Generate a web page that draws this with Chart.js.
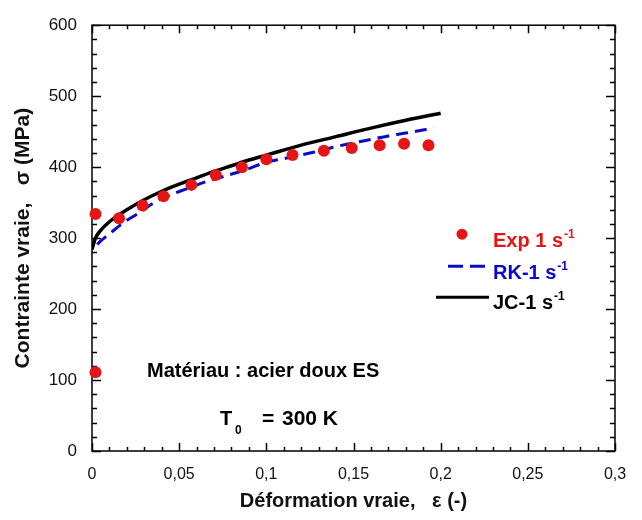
<!DOCTYPE html>
<html>
<head>
<meta charset="utf-8">
<script src="https://cdn.jsdelivr.net/npm/chart.js@4.4.1/dist/chart.umd.min.js"></script>
<style>
    html, body { margin: 0; padding: 0; background: #fff; }
    #chart-wrap { width: 642px; height: 520px; }
</style>
</head>
<body>
<div id="chart-wrap">
    <canvas id="stress-strain-chart" width="642" height="520"></canvas>
</div>
<script>
// Exp 1 s-1 : measured points (true strain, true stress in MPa)
const expStrain = [0.002, 0.002, 0.0155, 0.029, 0.041, 0.057, 0.071, 0.086, 0.100, 0.115, 0.133, 0.149, 0.165, 0.179, 0.193];
const expStress = [111, 334, 328, 346, 359, 375, 389, 400, 411, 417, 423, 427, 431, 433, 431];

// JC-1 s-1 : Johnson-Cook curve
const jcStrain = [0, 0.002, 0.005, 0.01, 0.015, 0.02, 0.03, 0.04, 0.05, 0.06, 0.07, 0.08, 0.09, 0.10, 0.12, 0.14, 0.16, 0.18, 0.20];
const jcStress = [284, 300, 311, 323, 332, 340, 354, 366, 376, 385, 394, 402, 410, 417, 431, 443, 455, 466, 476];

// RK-1 s-1 : dashed model curve
const rkStrain = [0.003, 0.005, 0.008, 0.012, 0.016, 0.02, 0.028, 0.035, 0.045, 0.055, 0.066, 0.077, 0.088, 0.10, 0.11, 0.127, 0.14, 0.16, 0.17, 0.18, 0.196];
const rkStress = [291, 296, 302, 310, 318, 325, 337, 349, 361, 370, 380, 388, 396, 407, 412, 421, 429, 439, 444, 448, 455];

// axis tick labels (French decimal comma)
const xTickLabels = ['0', '0,05', '0,1', '0,15', '0,2', '0,25', '0,3'];
const yTickLabels = ['0', '100', '200', '300', '400', '500', '600'];

const RED = '#e61414';
const BLUE = '#0a0acc';
const FONT = "'Liberation Sans', Arial, sans-serif";

function toPoints(xs, ys) {
    return xs.map((x, i) => ({ x: x, y: ys[i] }));
}

// box frame + inward major / minor ticks on all four sides
const frameTicks = {
    id: 'frameTicks',
    beforeDatasetsDraw(chart) {
        const { ctx, chartArea, scales } = chart;
        const { left, right, top, bottom } = chartArea;
        ctx.save();
        ctx.strokeStyle = '#000';
        ctx.lineWidth = 1.5;
        ctx.strokeRect(left, top, right - left, bottom - top);
        ctx.beginPath();
        // x ticks every 0.01, major every 0.05
        for (let i = 0; i <= 30; i++) {
            const px = Math.round(scales.x.getPixelForValue(i / 100)) + 0.5;
            const len = i % 5 === 0 ? 8 : 4;
            ctx.moveTo(px, bottom); ctx.lineTo(px, bottom - len);
            ctx.moveTo(px, top); ctx.lineTo(px, top + len);
        }
        // y ticks every 20, major every 100
        for (let v = 0; v <= 600; v += 20) {
            const py = Math.round(scales.y.getPixelForValue(v)) + 0.5;
            const len = v % 100 === 0 ? 9 : 5;
            ctx.moveTo(left, py); ctx.lineTo(left + len, py);
            ctx.moveTo(right, py); ctx.lineTo(right - len, py);
        }
        ctx.stroke();
        ctx.restore();
    }
};

function textWithSup(ctx, text, sup, x, y, color) {
    ctx.fillStyle = color;
    ctx.font = 'bold 20px ' + FONT;
    ctx.fillText(text, x, y);
    const w = ctx.measureText(text).width;
    ctx.font = 'bold 12px ' + FONT;
    ctx.fillText(sup, x + w + 1, y - 9);
}

// legend with superscripts and the two text notes
const notes = {
    id: 'notes',
    afterDraw(chart) {
        const { ctx, chartArea } = chart;
        const l = chartArea.left, t = chartArea.top;
        ctx.save();
        ctx.textBaseline = 'alphabetic';
        ctx.textAlign = 'left';

        // Exp marker
        ctx.fillStyle = RED;
        ctx.beginPath();
        ctx.arc(l + 370, t + 209, 5.5, 0, Math.PI * 2);
        ctx.fill();
        textWithSup(ctx, 'Exp 1 s', '-1', l + 401, t + 222, RED);

        // RK dashed sample
        ctx.strokeStyle = BLUE;
        ctx.lineWidth = 3;
        ctx.setLineDash([15, 7]);
        ctx.beginPath();
        ctx.moveTo(l + 356, t + 241); ctx.lineTo(l + 393, t + 241);
        ctx.stroke();
        textWithSup(ctx, 'RK-1 s', '-1', l + 401, t + 254, BLUE);

        // JC solid sample
        ctx.setLineDash([]);
        ctx.strokeStyle = '#000';
        ctx.beginPath();
        ctx.moveTo(l + 344, t + 272); ctx.lineTo(l + 397, t + 272);
        ctx.stroke();
        textWithSup(ctx, 'JC-1 s', '-1', l + 401, t + 284, '#000');

        // material note
        ctx.fillStyle = '#000';
        ctx.font = 'bold 20px ' + FONT;
        ctx.fillText('Matériau : acier doux ES', l + 55, t + 352);

        // T0 = 300 K
        ctx.fillText('T', l + 128, t + 400);
        ctx.font = 'bold 12px ' + FONT;
        ctx.fillText('0', l + 143, t + 409);
        ctx.font = 'bold 21px ' + FONT;
        ctx.fillText('=', l + 170, t + 400);
        ctx.fillText('300 K', l + 190, t + 400);
        ctx.restore();
    }
};

const ctx = document.getElementById('stress-strain-chart').getContext('2d');

new Chart(ctx, {
    type: 'scatter',
    data: {
        datasets: [
            {
                label: 'Exp 1 s-1',
                data: toPoints(expStrain, expStress),
                backgroundColor: RED,
                borderColor: RED,
                pointRadius: 6,
                pointBorderWidth: 0,
                showLine: false,
                clip: false,
                order: 0
            },
            {
                label: 'RK-1 s-1',
                data: toPoints(rkStrain, rkStress),
                borderColor: BLUE,
                borderWidth: 3,
                borderDash: [12, 7],
                pointRadius: 0,
                showLine: true,
                cubicInterpolationMode: 'monotone',
                order: 1
            },
            {
                label: 'JC-1 s-1',
                data: toPoints(jcStrain, jcStress),
                borderColor: '#000',
                borderWidth: 3.5,
                pointRadius: 0,
                showLine: true,
                cubicInterpolationMode: 'monotone',
                order: 2
            }
        ]
    },
    options: {
        responsive: false,
        animation: false,
        devicePixelRatio: 1,
        layout: {
            padding: { top: 18, right: 27, left: 0, bottom: 0 }
        },
        scales: {
            x: {
                type: 'linear',
                min: 0,
                max: 0.3,
                afterFit: (scale) => { scale.height = 69; },
                grid: { display: false, drawTicks: false },
                border: { display: false },
                ticks: {
                    stepSize: 0.05,
                    padding: 14,
                    color: '#111',
                    font: { family: FONT, size: 16 },
                    maxRotation: 0,
                    callback: (value, index) => xTickLabels[index]
                },
                title: {
                    display: true,
                    text: 'Déformation vraie,   ε (-)',
                    color: '#111',
                    font: { family: FONT, size: 20, weight: 'bold' },
                    padding: { top: 0, bottom: 7 }
                }
            },
            y: {
                type: 'linear',
                min: 0,
                max: 600,
                afterFit: (scale) => { scale.width = 92; },
                grid: { display: false, drawTicks: false },
                border: { display: false },
                ticks: {
                    stepSize: 100,
                    padding: 15,
                    color: '#111',
                    font: { family: FONT, size: 17 },
                    callback: (value, index) => yTickLabels[index]
                },
                title: {
                    display: true,
                    text: 'Contrainte vraie,   σ (MPa)',
                    color: '#111',
                    font: { family: FONT, size: 21, weight: 'bold' },
                    padding: { top: 11, bottom: 0 }
                }
            }
        },
        plugins: {
            legend: { display: false },
            tooltip: { enabled: false }
        }
    },
    plugins: [frameTicks, notes]
});
</script>
</body>
</html>
